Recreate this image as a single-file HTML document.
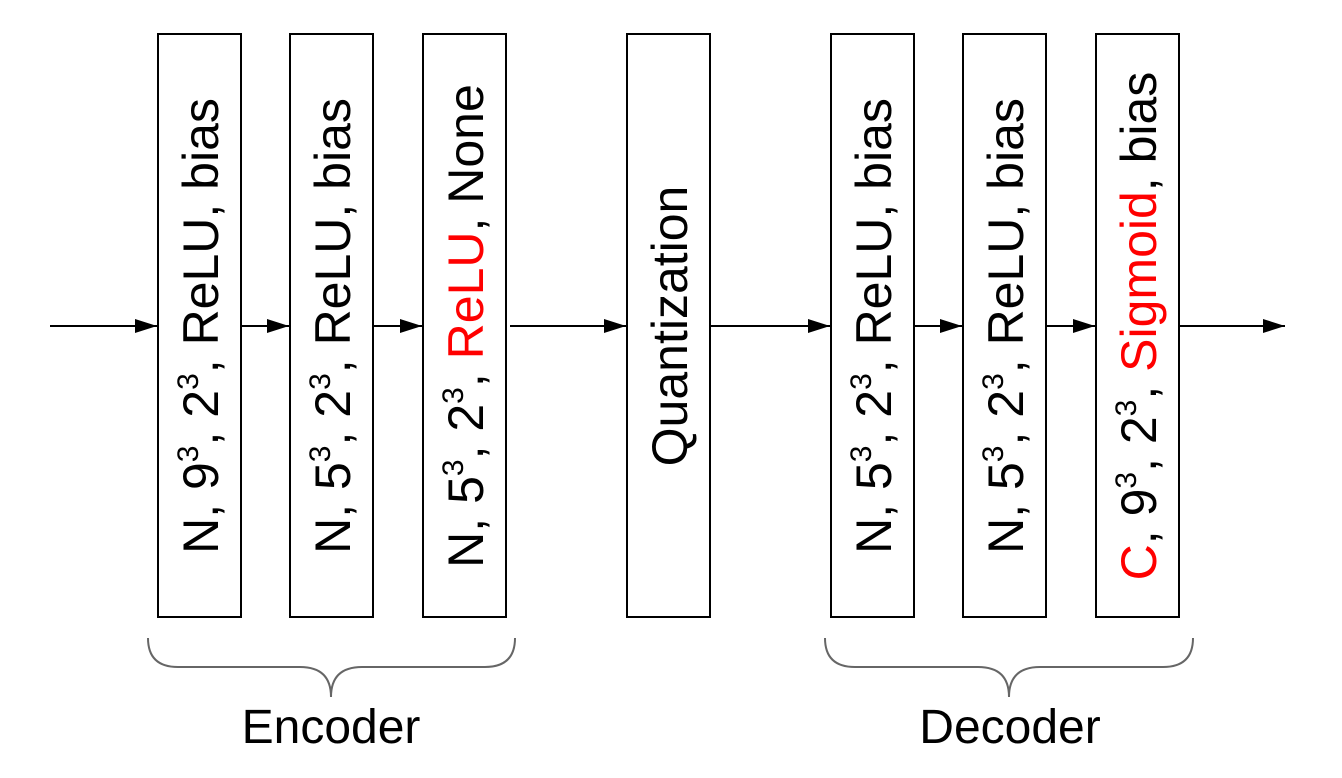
<!DOCTYPE html>
<html><head><meta charset="utf-8"><style>html,body{margin:0;padding:0;background:#fff;}svg{display:block}</style></head>
<body>
<svg width="1342" height="778" viewBox="0 0 1342 778" xmlns="http://www.w3.org/2000/svg" font-family="Liberation Sans, Arial, sans-serif">
<defs>
<marker id="a" markerWidth="22" markerHeight="14" refX="22" refY="7" orient="auto" markerUnits="userSpaceOnUse">
<path d="M0,0 L22,7 L0,14 Z" fill="#000"/></marker>
</defs>
<g fill="#fff" stroke="#000" stroke-width="2">
<rect x="158" y="34" width="83" height="583"/>
<rect x="290" y="34" width="83" height="583"/>
<rect x="423" y="34" width="83" height="583"/>
<rect x="627" y="34" width="83" height="583"/>
<rect x="831" y="34" width="83" height="583"/>
<rect x="963" y="34" width="83" height="583"/>
<rect x="1096" y="34" width="83" height="583"/>
</g>
<g stroke="#000" stroke-width="2" marker-end="url(#a)">
<line x1="50" y1="326" x2="157" y2="326"/>
<line x1="241" y1="326" x2="289" y2="326"/>
<line x1="373" y1="326" x2="422" y2="326"/>
<line x1="510" y1="326" x2="626" y2="326"/>
<line x1="710" y1="326" x2="830" y2="326"/>
<line x1="914" y1="326" x2="962" y2="326"/>
<line x1="1046" y1="326" x2="1095" y2="326"/>
<line x1="1179" y1="326" x2="1285" y2="326"/>
</g>
<g font-size="50" text-anchor="middle" fill="#000">
<text transform="translate(218,326) rotate(-90)">N, 9<tspan font-size="30" dy="-20">3</tspan><tspan dy="20">, 2</tspan><tspan font-size="30" dy="-20">3</tspan><tspan dy="20">, ReLU, bias</tspan></text>
<text transform="translate(350,326) rotate(-90)">N, 5<tspan font-size="30" dy="-20">3</tspan><tspan dy="20">, 2</tspan><tspan font-size="30" dy="-20">3</tspan><tspan dy="20">, ReLU, bias</tspan></text>
<text transform="translate(483,326) rotate(-90)">N, 5<tspan font-size="30" dy="-20">3</tspan><tspan dy="20">, 2</tspan><tspan font-size="30" dy="-20">3</tspan><tspan dy="20">, </tspan><tspan fill="#f00">ReLU</tspan>, None</text>
<text transform="translate(687,326) rotate(-90)">Quantization</text>
<text transform="translate(891,326) rotate(-90)">N, 5<tspan font-size="30" dy="-20">3</tspan><tspan dy="20">, 2</tspan><tspan font-size="30" dy="-20">3</tspan><tspan dy="20">, ReLU, bias</tspan></text>
<text transform="translate(1023,326) rotate(-90)">N, 5<tspan font-size="30" dy="-20">3</tspan><tspan dy="20">, 2</tspan><tspan font-size="30" dy="-20">3</tspan><tspan dy="20">, ReLU, bias</tspan></text>
<text transform="translate(1156,326) rotate(-90)"><tspan fill="#f00">C</tspan>, 9<tspan font-size="30" dy="-20">3</tspan><tspan dy="20">, 2</tspan><tspan font-size="30" dy="-20">3</tspan><tspan dy="20">, </tspan><tspan fill="#f00">Sigmoid</tspan>, bias</text>
</g>
<g fill="none" stroke="#666" stroke-width="2">
<path d="M148,638 Q148,667 178,667 L300,667 Q331,667 331,697 Q331,667 362,667 L485,667 Q515,667 515,638"/>
<path d="M825,638 Q825,667 855,667 L978,667 Q1009,667 1009,697 Q1009,667 1040,667 L1163,667 Q1193,667 1193,638"/>
</g>
<g font-size="48" text-anchor="middle" fill="#000">
<text x="331" y="743">Encoder</text>
<text x="1010" y="743">Decoder</text>
</g>
</svg>
</body></html>
